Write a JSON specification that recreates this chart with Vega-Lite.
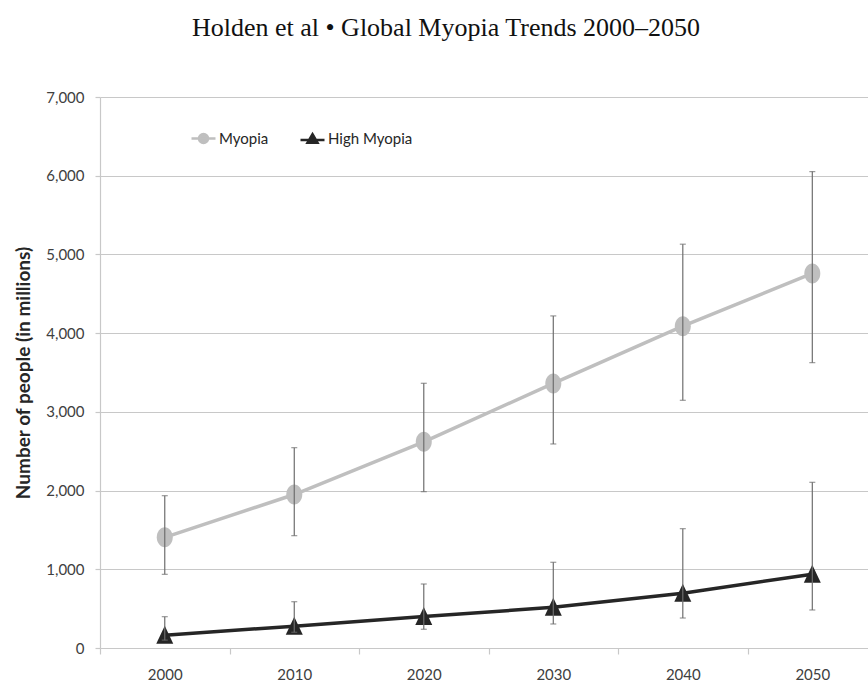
{
  "$schema": "https://vega.github.io/schema/vega-lite/v6.json",
  "autosize": {"type": "none"},
  "padding": {"left": 100, "top": 97, "right": 0, "bottom": 34},
  "width": 768,
  "height": 551,
  "background": "white",
  "title": {
    "text": "Holden et al • Global Myopia Trends 2000–2050",
    "font": "Liberation Serif",
    "fontSize": 26,
    "fontWeight": "normal",
    "color": "#111111",
    "anchor": "middle",
    "dx": -38,
    "baseline": "alphabetic",
    "offset": 28
  },
  "config": {
    "view": {"stroke": null},
    "axis": {
      "labelFont": "Lato",
      "labelFontSize": 15,
      "labelColor": "#404040",
      "titleFont": "Lato",
      "titleColor": "#262626"
    },
    "legend": {
      "labelFont": "Lato",
      "labelFontSize": 15,
      "labelColor": "#262626"
    }
  },
  "data": {
    "values": [
      {"year": 2000, "series": "Myopia", "value": 1406, "lo": 936, "hi": 1935},
      {"year": 2010, "series": "Myopia", "value": 1950, "lo": 1427, "hi": 2545},
      {"year": 2020, "series": "Myopia", "value": 2620, "lo": 1986, "hi": 3363},
      {"year": 2030, "series": "Myopia", "value": 3361, "lo": 2592, "hi": 4219},
      {"year": 2040, "series": "Myopia", "value": 4089, "lo": 3147, "hi": 5130},
      {"year": 2050, "series": "Myopia", "value": 4758, "lo": 3625, "hi": 6052},
      {"year": 2000, "series": "High Myopia", "value": 163, "lo": 100, "hi": 398},
      {"year": 2010, "series": "High Myopia", "value": 277, "lo": 200, "hi": 588},
      {"year": 2020, "series": "High Myopia", "value": 399, "lo": 238, "hi": 813},
      {"year": 2030, "series": "High Myopia", "value": 517, "lo": 305, "hi": 1089},
      {"year": 2040, "series": "High Myopia", "value": 696, "lo": 381, "hi": 1516},
      {"year": 2050, "series": "High Myopia", "value": 938, "lo": 483, "hi": 2105}
    ]
  },
  "layer": [
    {
      "mark": {"type": "line", "strokeWidth": 3.5},
      "encoding": {
        "x": {
          "field": "year", "type": "quantitative",
          "scale": {"domain": [1995, 2054.3], "nice": false, "zero": false},
          "axis": {
            "title": null,
            "values": [1995, 2000, 2005, 2010, 2015, 2020, 2025, 2030, 2035, 2040, 2045, 2050],
            "labelExpr": "datum.value % 10 === 0 ? '' + datum.value : ''",
            "grid": false,
            "domainColor": "#c8c8c8",
            "domainWidth": 1.2,
            "tickColor": "#c8c8c8",
            "tickWidth": 1.2,
            "tickSize": 6,
            "tickOpacity": {"condition": {"test": "datum.value % 10 === 0", "value": 0}, "value": 1},
            "labelPadding": 13,
            "labelFlush": false,
            "labelOverlap": false
          }
        },
        "y": {
          "field": "value", "type": "quantitative",
          "scale": {"domain": [0, 7000], "nice": false},
          "axis": {
            "title": "Number of people (in millions)",
            "titleFontWeight": "bold",
            "titleFontSize": 19,
            "titlePadding": 12,
            "values": [0, 1000, 2000, 3000, 4000, 5000, 6000, 7000],
            "labelExpr": "format(datum.value, ',')",
            "grid": true,
            "gridColor": "#c8c8c8",
            "gridWidth": 1.2,
            "domainColor": "#c8c8c8",
            "domainWidth": 1.2,
            "tickColor": "#c8c8c8",
            "tickWidth": 1.2,
            "tickSize": 5,
            "labelPadding": 11
          }
        },
        "color": {
          "field": "series", "type": "nominal",
          "scale": {"domain": ["Myopia", "High Myopia"], "range": ["#bfbfbf", "#262626"]},
          "legend": {
            "title": null,
            "orient": "none",
            "legendX": 96,
            "legendY": 34,
            "direction": "horizontal",
            "padding": 0,
            "symbolSize": 100,
            "symbolStrokeWidth": 2.5,
            "labelOffset": 8,
            "columnPadding": 26,
            "encode": {
              "symbols": {
                "update": {
                  "shape": {"signal": "datum.value === 'Myopia' ? 'M-2.4,0L2.4,0M-0.9,0A0.9,0.9 0 1,1 0.9,0A0.9,0.9 0 1,1 -0.9,0Z' : 'M-2.4,0.25L2.4,0.25M0,-0.9L1,0.8L-1,0.8Z'"},
                  "fill": {"signal": "datum.value === 'Myopia' ? '#bfbfbf' : '#262626'"},
                  "stroke": {"signal": "datum.value === 'Myopia' ? '#bfbfbf' : '#262626'"},
                  "strokeWidth": {"value": 2.5},
                  "opacity": {"value": 1},
                  "fillOpacity": {"value": 1}
                }
              }
            }
          }
        }
      }
    },
    {
      "transform": [{"filter": "datum.series === 'Myopia'"}],
      "mark": {"type": "point", "filled": true, "opacity": 1, "size": 400, "shape": "M-0.8,0A0.8,1 0 1,1 0.8,0A0.8,1 0 1,1 -0.8,0Z"},
      "encoding": {
        "x": {"field": "year", "type": "quantitative"},
        "y": {"field": "value", "type": "quantitative"},
        "color": {"field": "series", "type": "nominal"}
      }
    },
    {
      "transform": [{"filter": "datum.series === 'High Myopia'"}],
      "mark": {"type": "point", "filled": true, "opacity": 1, "size": 400, "shape": "M0,-0.95L0.85,0.85L-0.85,0.85Z"},
      "encoding": {
        "x": {"field": "year", "type": "quantitative"},
        "y": {"field": "value", "type": "quantitative"},
        "color": {"field": "series", "type": "nominal"}
      }
    },
    {
      "mark": {"type": "errorbar", "ticks": {"size": 6, "thickness": 1.2}, "thickness": 1.2, "color": "#6e6e6e"},
      "encoding": {
        "x": {"field": "year", "type": "quantitative"},
        "y": {"field": "lo", "type": "quantitative", "title": "Number of people (in millions)"},
        "y2": {"field": "hi"}
      }
    }
  ]
}
